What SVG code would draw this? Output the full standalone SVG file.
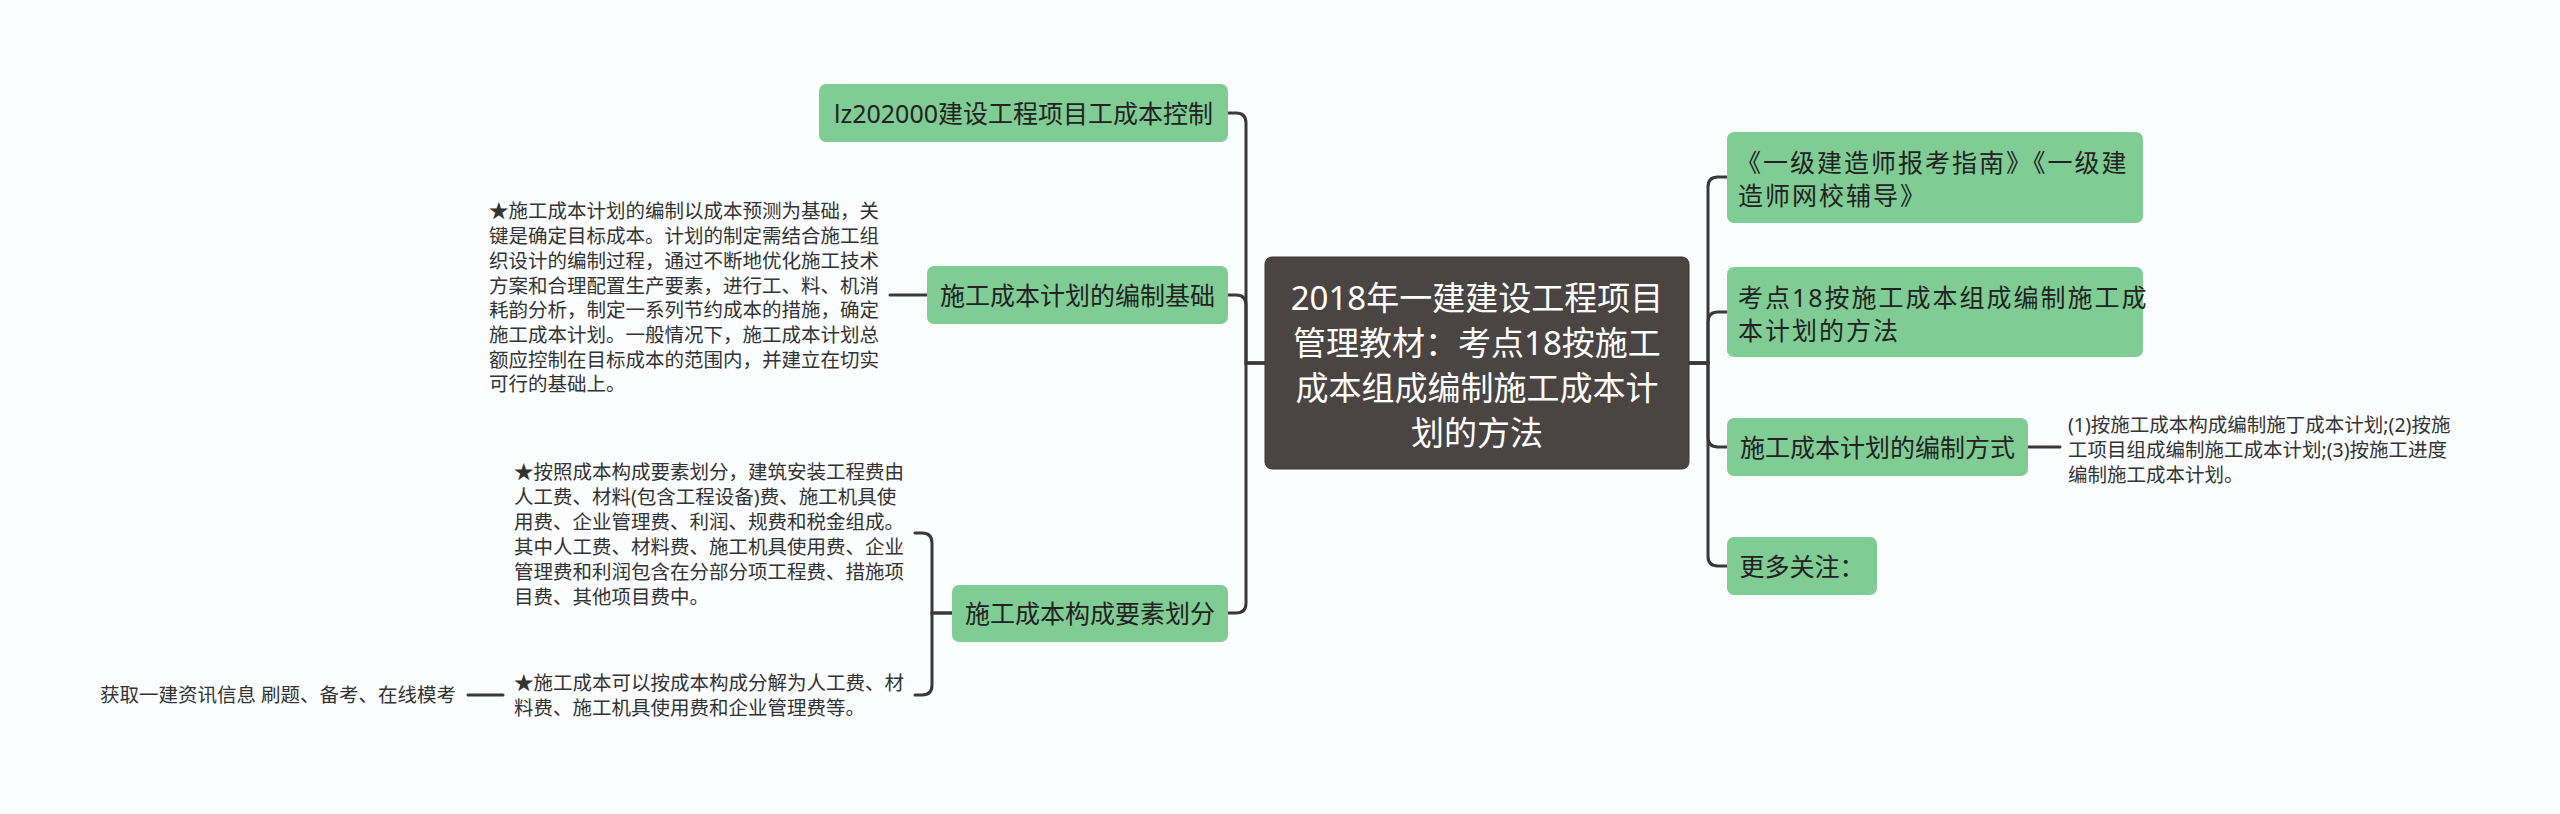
<svg xmlns="http://www.w3.org/2000/svg" width="2560" height="814" viewBox="0 0 2560 814">
<style>
.bg{fill:#fbfdfe}
.conn{fill:none;stroke:#3b3838;stroke-width:3;stroke-linecap:round}
.root rect{fill:#4a4543;stroke:#3a3534;stroke-width:1}
.root text{fill:#ffffff;font-family:"Noto Sans","Noto Sans CJK SC",sans-serif;font-size:33px;text-anchor:middle}
.topic rect{fill:#80cc95}
.topic text{fill:#222222;font-family:"Noto Sans","Noto Sans CJK SC",sans-serif;font-size:25px}
.mid{text-anchor:middle}
.wide{letter-spacing:2px}
.note text{fill:#333333;font-family:"Noto Sans","Noto Sans CJK SC",sans-serif;font-size:19.5px}
</style>
<rect class="bg" x="0" y="0" width="2560" height="814"/>
<g id="connectors">
<path class="conn" d="M1265 363 H1246 V123 Q1246 113 1236 113 H1228"/>
<path class="conn" d="M1265 363 H1246 V305 Q1246 295 1236 295 H1228"/>
<path class="conn" d="M1265 363 H1246 V603 Q1246 613 1236 613 H1228"/>
<path class="conn" d="M1689 363 H1708 V187 Q1708 177 1718 177 H1727"/>
<path class="conn" d="M1689 363 H1708 V322 Q1708 312 1718 312 H1727"/>
<path class="conn" d="M1689 363 H1708 V437 Q1708 447 1718 447 H1727"/>
<path class="conn" d="M1689 363 H1708 V556 Q1708 566 1718 566 H1727"/>
<path class="conn" d="M927 295 H890"/>
<path class="conn" d="M952 613 H932 V543 Q932 533 922 533 H915"/>
<path class="conn" d="M952 613 H932 V685 Q932 695 922 695 H915"/>
<path class="conn" d="M503 695 H468"/>
<path class="conn" d="M2028 447 H2060"/>
</g>
<g id="root" class="root">
<rect x="1265" y="257" width="424" height="212" rx="7"/>
<text x="1477" y="310">2018年一建建设工程项目</text>
<text x="1477" y="355">管理教材：考点18按施工</text>
<text x="1477" y="400">成本组成编制施工成本计</text>
<text x="1477" y="445">划的方法</text>
</g>
<g id="node-lz" class="topic">
<rect x="819" y="84" width="409" height="58" rx="7"/>
<text class="mid" x="1023.5" y="122.5">lz202000建设工程项目工成本控制</text>
</g>
<g id="node-basis" class="topic">
<rect x="927" y="266" width="301" height="58" rx="7"/>
<text class="mid" x="1077.5" y="304.5">施工成本计划的编制基础</text>
</g>
<g id="note-basis" class="note">
<text x="489" y="218.4">★施工成本计划的编制以成本预测为基础，关</text>
<text x="489" y="243.1">键是确定目标成本。计划的制定需结合施工组</text>
<text x="489" y="267.8">织设计的编制过程，通过不断地优化施工技术</text>
<text x="489" y="292.5">方案和合理配置生产要素，进行工、料、机消</text>
<text x="489" y="317.2">耗韵分析，制定一系列节约成本的措施，确定</text>
<text x="489" y="341.9">施工成本计划。一般情况下，施工成本计划总</text>
<text x="489" y="366.6">额应控制在目标成本的范围内，并建立在切实</text>
<text x="489" y="391.3">可行的基础上。</text>
</g>
<g id="node-elements" class="topic">
<rect x="952" y="585" width="276" height="57" rx="7"/>
<text class="mid" x="1090" y="623">施工成本构成要素划分</text>
</g>
<g id="note-elements-a" class="note">
<text x="514" y="479.4">★按照成本构成要素划分，建筑安装工程费由</text>
<text x="514" y="504.4">人工费、材料(包含工程设备)费、施工机具使</text>
<text x="514" y="529.4">用费、企业管理费、利润、规费和税金组成。</text>
<text x="514" y="554.4">其中人工费、材料费、施工机具使用费、企业</text>
<text x="514" y="579.4">管理费和利润包含在分部分项工程费、措施项</text>
<text x="514" y="604.4">目费、其他项目费中。</text>
</g>
<g id="note-elements-b" class="note">
<text x="514" y="690.4">★施工成本可以按成本构成分解为人工费、材</text>
<text x="514" y="715.4">料费、施工机具使用费和企业管理费等。</text>
</g>
<g id="note-more-info" class="note">
<text x="100" y="702.4">获取一建资讯信息 刷题、备考、在线模考</text>
</g>
<g id="node-guide" class="topic">
<rect x="1727" y="132" width="416" height="91" rx="7"/>
<text class="wide" x="1736" y="171.5">《一级建造师报考指南》《一级建</text>
<text class="wide" x="1738" y="204.5">造师网校辅导》</text>
</g>
<g id="node-point18" class="topic">
<rect x="1727" y="267" width="416" height="90" rx="7"/>
<text class="wide" x="1738" y="306.5">考点18按施工成本组成编制施工成</text>
<text class="wide" x="1738" y="339.5">本计划的方法</text>
</g>
<g id="node-method" class="topic">
<rect x="1727" y="418" width="301" height="58" rx="7"/>
<text class="mid" x="1877.5" y="456.5">施工成本计划的编制方式</text>
</g>
<g id="note-method" class="note">
<text x="2068" y="432.4">(1)按施工成本构成编制施丁成本计划;(2)按施</text>
<text x="2068" y="457.4">工项目组成编制施工成本计划;(3)按施工进度</text>
<text x="2068" y="482.4">编制施工成本计划。</text>
</g>
<g id="node-more" class="topic">
<rect x="1727" y="537" width="150" height="58" rx="7"/>
<text class="mid" x="1802" y="575.5">更多关注：</text>
</g>
</svg>
